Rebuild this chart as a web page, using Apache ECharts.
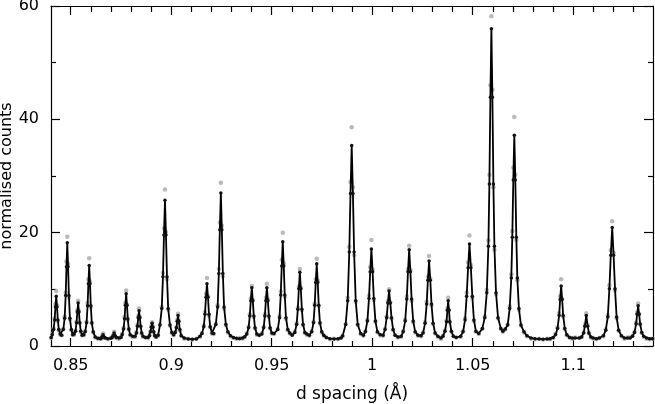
<!DOCTYPE html>
<html>
<head>
<meta charset="utf-8">
<script src="https://cdn.jsdelivr.net/npm/echarts@6/dist/echarts.min.js"></script>
<style>html,body{margin:0;padding:0;background:#fff}#chart{width:655px;height:404px}</style>
</head>
<body>
<div id="chart"></div>
<script>
// d spacing (Å) of each profile point
const dSpacing = [
  0.8403,
  0.8408,0.8415,0.8420,0.8424,0.8428,0.8432,0.8436,0.8441,0.8448,0.8455,
  0.8463,0.8470,0.8475,0.8479,0.8483,0.8487,0.8491,0.8496,0.8503,0.8510,
  0.8517,0.8524,0.8529,0.8533,0.8537,0.8541,0.8545,0.8550,0.8557,0.8565,
  0.8572,0.8579,0.8584,0.8588,0.8592,0.8596,0.8600,0.8605,0.8612,0.8622,0.8635,0.8648,
  0.8652,0.8656,0.8661,0.8666,0.8671,0.8685,0.8700,
  0.8706,0.8711,0.8716,0.8721,0.8727,0.8740,0.8750,
  0.8756,0.8763,0.8768,0.8772,0.8776,0.8780,0.8784,0.8789,0.8796,0.8808,
  0.8820,0.8827,0.8832,0.8836,0.8840,0.8844,0.8848,0.8853,0.8860,0.8872,
  0.8885,0.8892,0.8897,0.8901,0.8905,0.8909,0.8913,0.8918,0.8925,0.8935,
  0.8944,0.8953,0.8959,0.8964,0.8969,0.8974,0.8979,0.8985,0.8994,0.9003,0.9012,
  0.9020,0.9026,0.9030,0.9034,0.9038,0.9043,0.9050,0.9065,0.9085,0.9105,0.9125,
  0.9143,0.9153,0.9162,0.9168,0.9173,0.9178,0.9183,0.9188,0.9194,0.9203,0.9211,
  0.9222,0.9231,0.9237,0.9242,0.9247,0.9252,0.9257,0.9263,0.9272,0.9282,0.9295,0.9310,0.9325,0.9340,0.9355,
  0.9366,0.9376,0.9385,0.9391,0.9396,0.9401,0.9406,0.9411,0.9417,0.9426,0.9438,
  0.9451,0.9460,0.9466,0.9471,0.9476,0.9481,0.9486,0.9492,0.9501,0.9511,
  0.9530,0.9539,0.9545,0.9550,0.9555,0.9560,0.9565,0.9571,0.9580,0.9590,0.9602,
  0.9615,0.9624,0.9630,0.9635,0.9640,0.9645,0.9650,0.9656,0.9665,0.9675,0.9687,
  0.9699,0.9708,0.9714,0.9719,0.9724,0.9729,0.9734,0.9740,0.9749,0.9759,0.9772,0.9790,0.9810,0.9830,0.9845,
  0.9853,0.9868,0.9878,0.9886,0.9892,0.9898,0.9904,0.9910,0.9918,0.9928,0.9943,
  0.9956,0.9966,0.9976,0.9984,0.9990,0.9996,1.0002,1.0008,1.0016,1.0026,1.0040,
  1.0054,1.0064,1.0072,1.0078,1.0084,1.0090,1.0096,1.0104,1.0114,1.0128,
  1.0144,1.0154,1.0164,1.0172,1.0178,1.0184,1.0190,1.0196,1.0204,1.0214,1.0228,
  1.0243,1.0253,1.0263,1.0271,1.0277,1.0283,1.0289,1.0295,1.0303,1.0313,1.0327,
  1.0342,1.0352,1.0362,1.0370,1.0374,1.0378,1.0382,1.0386,1.0394,1.0404,1.0418,
  1.0440,1.0452,1.0462,1.0470,1.0477,1.0484,1.0491,1.0498,1.0506,1.0516,1.0530,
  1.0548,1.0560,1.0570,1.0578,1.0583,1.0588,1.0593,1.0598,1.0603,1.0608,1.0616,1.0626,1.0640,1.0650,
  1.0662,1.0674,1.0684,1.0692,1.0697,1.0702,1.0707,1.0712,1.0717,1.0722,1.0730,1.0740,1.0755,1.0770,1.0790,1.0810,1.0830,1.0850,1.0870,1.0885,
  1.0900,1.0912,1.0922,1.0930,1.0935,1.0940,1.0945,1.0950,1.0958,1.0968,1.0982,1.0995,1.1010,
  1.1030,1.1042,1.1052,1.1058,1.1065,1.1072,1.1078,1.1088,1.1100,1.1115,1.1130,
  1.1150,1.1162,1.1172,1.1180,1.1187,1.1194,1.1201,1.1208,1.1216,1.1226,1.1240,1.1255,1.1270,
  1.1283,1.1295,1.1305,1.1313,1.1318,1.1323,1.1328,1.1333,1.1341,1.1351,1.1365,1.1380,1.1395
];
// calculated (fitted) normalised counts
const calcCounts = [
  1.5,
  2.0,2.9,4.6,6.9,8.8,6.9,4.6,2.9,2.1,1.9,
  2.9,4.9,8.9,14.0,18.2,14.0,8.9,4.9,2.9,2.0,
  2.1,2.6,4.1,6.0,7.6,6.0,4.1,2.6,1.9,2.0,
  2.5,4.1,7.1,11.0,14.2,11.0,7.1,4.1,2.5,1.6,1.35,1.3,
  1.4,1.6,2.0,1.6,1.4,1.3,1.35,
  1.5,1.8,2.3,1.8,1.5,1.4,1.5,
  2.0,3.0,4.8,7.2,9.2,7.2,4.8,3.0,2.0,1.7,
  1.7,2.3,3.5,5.0,6.2,5.0,3.5,2.3,1.7,1.5,
  1.5,1.8,2.5,3.3,4.0,3.3,2.5,1.8,1.6,1.9,
  3.7,6.6,12.2,19.6,25.7,19.6,12.2,6.6,3.7,2.4,2.0,
  2.4,3.2,4.35,5.4,4.35,2.9,1.8,1.4,1.25,1.2,1.25,
  1.7,2.2,3.4,5.6,8.6,11.0,8.6,5.6,3.4,2.3,2.2,
  3.8,6.9,12.8,20.5,27.0,20.5,12.8,6.9,3.8,2.5,1.8,1.5,1.35,1.3,1.4,
  1.65,2.1,3.2,5.3,8.0,10.3,8.0,5.3,3.2,2.1,1.9,
  2.1,3.2,5.3,8.0,10.3,8.0,5.3,3.2,2.3,2.2,
  2.9,5.0,9.0,14.1,18.4,14.1,9.0,5.0,2.9,2.3,1.9,
  2.4,3.8,6.5,10.1,13.0,10.1,6.5,3.8,2.4,2.1,1.9,
  2.5,4.1,7.2,11.2,14.5,11.2,7.2,4.1,2.5,1.9,1.5,1.3,1.25,1.3,1.4,
  1.8,3.8,8.0,16.6,26.9,35.4,26.9,16.6,8.0,3.8,2.2,
  1.9,2.5,4.4,8.4,13.1,17.1,13.1,8.4,4.4,2.5,2.0,
  1.9,2.9,5.0,7.6,9.7,7.6,5.0,2.9,1.9,1.6,
  1.7,2.5,4.4,8.3,13.1,17.0,13.1,8.3,4.4,2.5,1.9,
  1.8,2.3,4.0,7.4,11.6,15.0,11.6,7.4,4.0,2.3,1.7,
  1.4,1.7,2.6,4.3,6.3,8.0,6.3,4.3,2.6,1.7,1.5,
  1.7,2.5,4.6,8.8,13.8,18.0,13.8,8.8,4.6,2.6,2.2,
  3.1,5.0,9.4,17.6,28.6,43.9,56.0,43.9,28.6,17.6,9.4,5.0,3.1,2.6,
  3.0,3.7,6.6,12.0,19.2,29.3,37.2,29.3,19.2,12.0,6.6,3.7,2.5,1.8,1.4,1.3,1.25,1.2,1.25,1.3,
  1.5,2.0,3.1,5.4,8.2,10.6,8.2,5.4,3.1,2.0,1.5,1.4,1.4,
  1.4,1.6,2.3,3.5,5.4,3.5,2.3,1.6,1.4,1.3,1.4,
  1.8,2.8,5.1,10.1,16.0,20.9,16.0,10.1,5.1,2.8,1.8,1.4,1.4,
  1.4,1.7,2.4,3.9,5.6,7.1,5.6,3.9,2.4,1.7,1.4,1.3,1.3
];
// observed normalised counts
const obsCounts = [
  1.4,
  2.1,3.1,4.9,7.4,9.7,7.2,4.4,2.8,2.0,1.9,
  3.0,5.2,9.4,14.9,19.3,14.5,8.6,4.7,2.8,2.0,
  2.0,2.7,4.3,6.3,8.0,6.2,4.0,2.5,1.9,1.9,
  2.6,4.3,7.6,11.8,15.5,11.4,6.9,4.0,2.4,1.5,1.3,1.4,
  1.3,1.7,2.2,1.5,1.4,1.2,1.4,
  1.5,1.9,2.5,1.7,1.4,1.3,1.6,
  2.1,3.2,5.1,7.6,9.8,7.3,4.6,2.9,1.9,1.6,
  1.6,2.4,3.7,5.3,6.6,5.1,3.4,2.2,1.6,1.5,
  1.4,1.9,2.6,3.5,4.2,3.4,2.4,1.8,1.6,1.8,
  3.8,6.9,12.9,20.8,27.6,20.1,11.8,6.4,3.6,2.3,1.9,
  2.5,3.3,4.6,5.7,4.4,2.8,1.8,1.3,1.3,1.1,1.3,
  1.6,2.3,3.6,6.0,9.2,12.0,8.8,5.4,3.3,2.2,2.1,
  3.9,7.2,13.6,21.8,28.8,21.2,12.3,6.6,3.7,2.4,1.7,1.4,1.3,1.4,1.3,
  1.6,2.2,3.4,5.6,8.4,10.6,8.1,5.1,3.1,2.0,1.9,
  2.2,3.4,5.6,8.5,11.0,8.2,5.1,3.1,2.2,2.1,
  3.0,5.3,9.6,15.2,20.0,14.6,8.7,4.8,2.8,2.2,2.0,
  2.5,4.0,6.8,10.5,13.6,10.3,6.3,3.7,2.3,2.0,1.8,
  2.6,4.3,7.5,11.8,15.4,11.5,7.0,4.0,2.4,1.8,1.5,1.2,1.3,1.2,1.5,
  1.7,3.9,8.5,17.5,29.0,38.6,28.0,16.0,7.8,3.7,2.1,
  1.8,2.6,4.6,8.9,13.9,18.7,13.5,8.1,4.3,2.4,1.9,
  1.8,3.0,5.2,7.9,10.0,7.7,4.8,2.8,1.9,1.5,
  1.6,2.6,4.6,8.8,13.6,17.7,13.4,8.0,4.2,2.4,1.8,
  1.7,2.4,4.2,7.8,12.2,15.9,11.9,7.2,3.9,2.2,1.6,
  1.3,1.8,2.7,4.5,6.6,8.5,6.4,4.2,2.5,1.7,1.5,
  1.6,2.6,4.9,9.4,14.8,19.5,14.3,8.5,4.4,2.5,2.1,
  3.0,5.2,9.9,18.6,30.2,46.0,58.2,45.2,28.0,17.0,9.1,4.9,3.0,2.5,
  2.9,3.8,7.0,12.6,20.3,31.5,40.4,30.2,18.7,11.6,6.4,3.6,2.4,1.7,1.3,1.2,1.3,1.1,1.3,1.2,
  1.4,2.1,3.3,5.8,8.8,11.8,8.4,5.2,3.0,1.9,1.5,1.3,1.5,
  1.4,1.6,2.4,3.7,5.8,3.6,2.2,1.5,1.3,1.2,1.4,
  1.7,2.9,5.4,10.7,16.9,22.0,16.4,9.8,4.9,2.7,1.7,1.3,1.5,
  1.5,1.8,2.5,4.1,5.9,7.5,5.7,3.8,2.3,1.6,1.3,1.2,1.3
];
const xMajorTicks = [0.85, 0.9, 0.95, 1, 1.05, 1.1];
const xMinorTicks = [0.84,0.86,0.87,0.88,0.89,0.91,0.92,0.93,0.94,0.96,0.97,0.98,0.99,1.01,1.02,1.03,1.04,1.06,1.07,1.08,1.09,1.11,1.12,1.13];
const xRange = [0.8402, 1.1397];
const yRange = [0, 60];
const yInterval = 20;

if (dSpacing.length !== calcCounts.length || dSpacing.length !== obsCounts.length) {
  console.error('length mismatch', dSpacing.length, calcCounts.length, obsCounts.length);
}

const calcData = dSpacing.map((d, i) => [d, calcCounts[i]]);
const obsData = dSpacing.map((d, i) => [d, obsCounts[i]]);

const FONT = 'DejaVu Sans';
const lineStyle = { color: '#000', width: 1.2 };

function xAxisDef(pos, ticks, len, showLine, showLabel, extra) {
  return Object.assign({
    type: 'value', position: pos, min: xRange[0], max: xRange[1],
    axisLine: { show: showLine, onZero: false, lineStyle },
    axisTick: { show: true, inside: true, length: len, customValues: ticks, lineStyle },
    axisLabel: { show: showLabel, customValues: ticks, color: '#000', fontFamily: FONT, fontSize: 16, margin: 12 },
    splitLine: { show: false }
  }, extra || {});
}
function yAxisDef(pos, showLabel, extra) {
  return Object.assign({
    type: 'value', position: pos, min: yRange[0], max: yRange[1], interval: yInterval,
    axisLine: { show: true, onZero: false, lineStyle },
    axisTick: { show: true, inside: true, length: 9, lineStyle },
    minorTick: { show: true, splitNumber: 2, length: 5, lineStyle },
    axisLabel: { show: showLabel, color: '#000', fontFamily: FONT, fontSize: 16, margin: 12 },
    splitLine: { show: false }
  }, extra || {});
}

const chart = echarts.init(document.getElementById('chart'), null, { renderer: 'canvas' });
chart.setOption({
  animation: false,
  backgroundColor: '#fff',
  grid: { left: 51, right: 2, top: 6, bottom: 58, containLabel: false, outerBoundsMode: 'none' },
  xAxis: [
    xAxisDef('bottom', xMajorTicks, 8, true, true, {
      name: 'd spacing (Å)', nameLocation: 'middle', nameGap: 40, nameMoveOverlap: false,
      nameTextStyle: { color: '#000', fontFamily: FONT, fontSize: 17 }
    }),
    xAxisDef('bottom', xMinorTicks, 5, false, false),
    xAxisDef('top', xMajorTicks, 9, true, false),
    xAxisDef('top', xMinorTicks, 6, false, false)
  ],
  yAxis: [
    yAxisDef('left', true, {
      name: 'normalised counts', nameLocation: 'middle', nameGap: 36, nameRotate: 90, nameMoveOverlap: false,
      nameTextStyle: { color: '#000', fontFamily: FONT, fontSize: 16 }
    }),
    yAxisDef('right', false)
  ],
  series: [
    {
      name: 'observed', type: 'scatter', xAxisIndex: 0, yAxisIndex: 0,
      data: obsData, symbol: 'circle', symbolSize: 4.5,
      itemStyle: { color: '#a9a9a9' }, z: 1
    },
    {
      name: 'calculated', type: 'line', xAxisIndex: 0, yAxisIndex: 0,
      data: calcData, showSymbol: true, symbol: 'circle', symbolSize: 3.5,
      itemStyle: { color: '#111' }, lineStyle: { color: '#000', width: 1.8 }, z: 2
    }
  ]
});
</script>
</body>
</html>
